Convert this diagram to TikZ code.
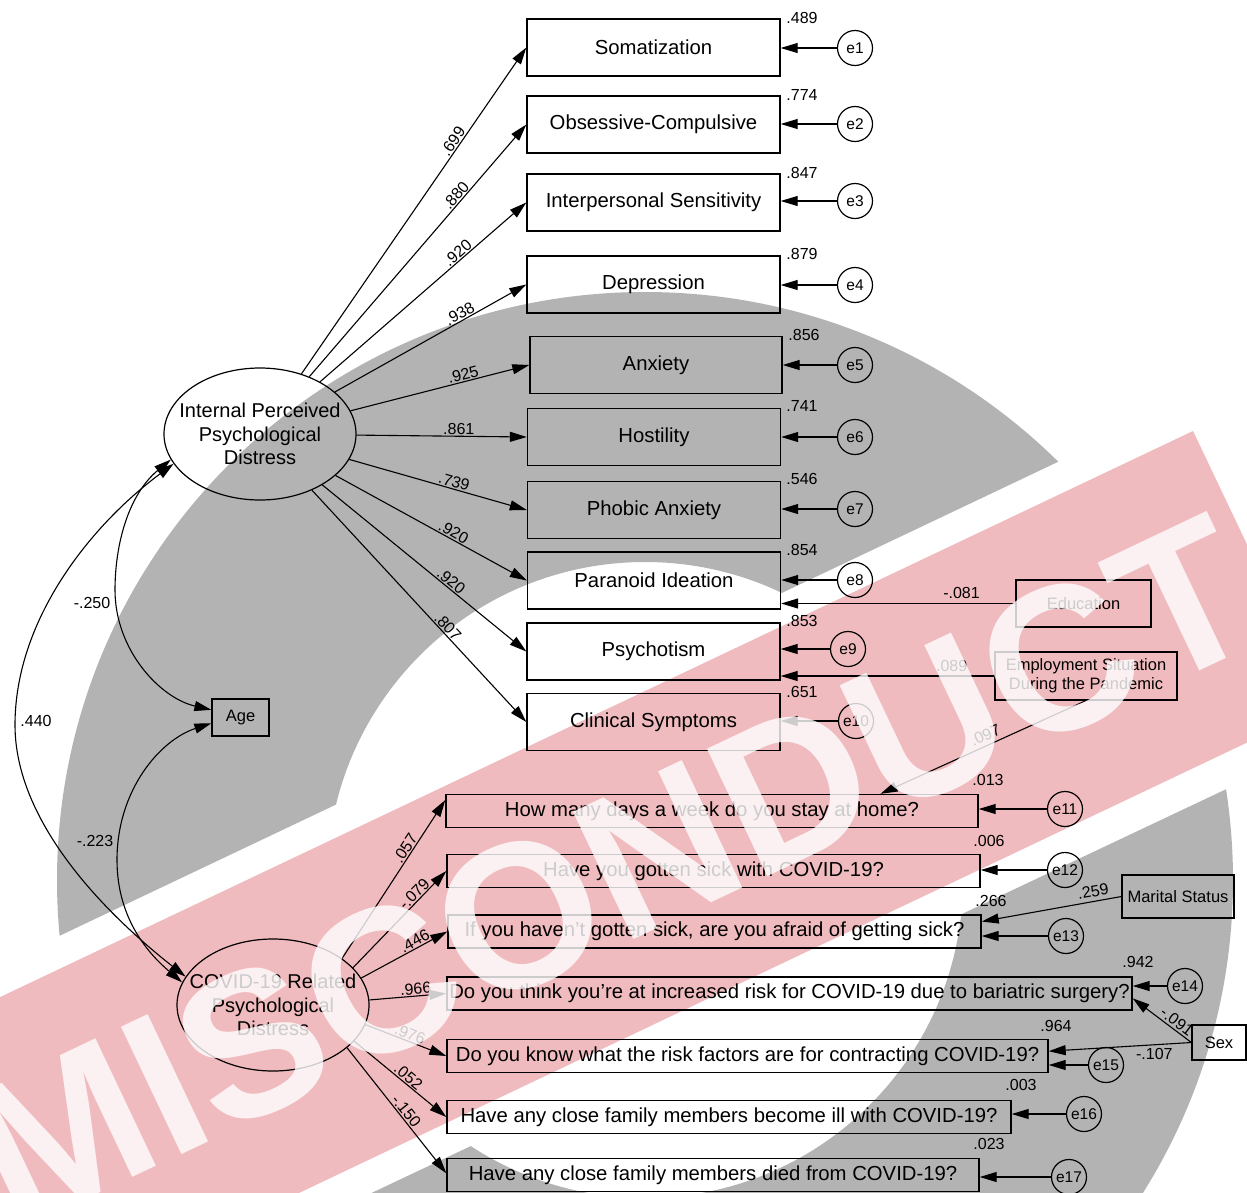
\documentclass[tikz,border=0pt]{standalone}
\usepackage{fontspec}
\setmainfont{Liberation Sans}
\usetikzlibrary{arrows.meta,shapes.geometric,calc}
\definecolor{wmgray}{RGB}{179,179,179}
\definecolor{wmpink}{RGB}{240,187,190}
\begin{document}
\begin{tikzpicture}[x=1pt,y=-1pt,
  obs/.style={draw, line width=1.4pt, minimum width=253pt, minimum height=57pt, inner sep=0pt, font=\fontsize{20.3}{24}\selectfont},
  qbox/.style={draw, line width=1.4pt, minimum height=33pt, inner sep=0pt, font=\fontsize{20.3}{22}\selectfont},
  sbox/.style={draw, line width=1.2pt, inner sep=0pt, align=center, font=\fontsize{16.5}{19}\selectfont},
  err/.style={circle, draw, line width=1.2pt, minimum size=35pt, inner sep=0pt, font=\fontsize{15.5}{17}\selectfont},
  lat/.style={ellipse, draw, line width=1.2pt, minimum width=192pt, minimum height=132pt, inner sep=0pt},
  lattext/.style={align=center, inner sep=0pt, font=\fontsize{20}{23.5}\selectfont},
  arr/.style={-{Triangle[length=17pt,width=10pt]}, line width=1.1pt},
  cov/.style={{Triangle[length=17pt,width=10pt]}-{Triangle[length=17pt,width=10pt]}, line width=1.1pt},
  lab/.style={font=\fontsize{16}{18}\selectfont, inner sep=1pt},
  wm/.style={text=white, text opacity=0.8, inner sep=0pt, font=\fontsize{205}{205}\selectfont\bfseries}
]
\useasboundingbox (0,0) rectangle (1247,1192);
\clip (0,0) rectangle (1247,1192);

% watermark background
\begin{scope}[even odd rule]
  \clip (-300,-300) rectangle (1600,1600) (-200,1059) -- (1222,384) -- (1381,716) -- (-200,1463) -- cycle;
  \fill[wmgray] (645,880) circle[radius=588pt] (645,880) circle[radius=318pt];
\end{scope}
\fill[wmpink] (-200,1092) -- (1193,431) -- (1324,706) -- (-200,1430) -- cycle;

% observed boxes
\node[obs] (s1) at (653.5,47.5) {Somatization};
\node[obs] (s2) at (653.5,124.5) {Obsessive-Compulsive};
\node[obs] (s3) at (653.5,202.5) {Interpersonal Sensitivity};
\node[obs] (s4) at (653.5,284.5) {Depression};
\node[obs, minimum width=252pt] (s5) at (656,365) {Anxiety};
\node[obs] (s6) at (654,437) {Hostility};
\node[obs] (s7) at (654,510) {Phobic Anxiety};
\node[obs] (s8) at (654,580.5) {Paranoid Ideation};
\node[obs] (s9) at (653.5,651.5) {Psychotism};
\node[obs] (s10) at (653.5,722) {Clinical Symptoms};

\node[qbox, minimum width=532pt] (q1) at (712,811) {How many days a week do you stay at home?};
\node[qbox, minimum width=533pt] (q2) at (713.5,871) {Have you gotten sick with COVID-19?};
\node[qbox, minimum width=533pt] (q3) at (714.5,931.5) {If you haven't gotten sick, are you afraid of getting sick?};
\node[qbox, minimum width=685pt] (q4) at (789.5,993.5) {Do you think you're at increased risk for COVID-19 due to bariatric surgery?};
\node[qbox, minimum width=601pt] (q5) at (747.5,1056) {Do you know what the risk factors are for contracting COVID-19?};
\node[qbox, minimum width=564pt] (q6) at (729,1117) {Have any close family members become ill with COVID-19?};
\node[qbox, minimum width=532pt] (q7) at (713,1175) {Have any close family members died from COVID-19?};

% error terms
\node[err] (e1) at (855,48) {e1};
\node[err] (e2) at (855,124) {e2};
\node[err] (e3) at (855,201) {e3};
\node[err] (e4) at (855,285) {e4};
\node[err] (e5) at (855,365) {e5};
\node[err] (e6) at (855,437) {e6};
\node[err] (e7) at (855,509) {e7};
\node[err] (e8) at (855,580) {e8};
\node[err] (e9) at (848,649) {e9};
\node[err] (e10) at (856,721) {e10};
\node[err] (e11) at (1065,809) {e11};
\node[err] (e12) at (1065,870) {e12};
\node[err] (e13) at (1066,936) {e13};
\node[err] (e14) at (1185,986) {e14};
\node[err] (e15) at (1106,1065) {e15};
\node[err] (e16) at (1084,1114) {e16};
\node[err] (e17) at (1069,1177) {e17};

% other boxes
\node[sbox, minimum width=57pt, minimum height=37pt] (age) at (240.5,717.5) {Age};
\node[sbox, minimum width=135pt, minimum height=47pt] (edu) at (1083.5,603.5) {Education};
\node[sbox, minimum width=182pt, minimum height=48pt] (emp) at (1086,676) {Employment Situation\\During the Pandemic};
\node[sbox, minimum width=112pt, minimum height=43pt] (mar) at (1178,896.5) {Marital Status};
\node[sbox, minimum width=54pt, minimum height=35pt] (sex) at (1219,1042.5) {Sex};

% latent variables
\node[lat] (ipd) at (260,434) {};
\node[lattext] (ipdt) at (260,434) {Internal Perceived\\Psychological\\Distress};
\node[lat] (cov) at (273,1005) {};
\node[lattext] (covt) at (273,1005) {COVID-19 Related\\Psychological\\Distress};

% loadings IPD
\draw[arr] (ipd) -- node[lab, sloped, above, pos=0.7] (l1) {.699} (s1.west);
\draw[arr] (ipd) -- node[lab, sloped, above, pos=0.7] (l2) {.880} (s2.west);
\draw[arr] (ipd) -- node[lab, sloped, above, pos=0.69] (l3) {.920} (s3.west);
\draw[arr] (ipd) -- node[lab, sloped, above, pos=0.67] (l4) {.938} (s4.west);
\draw[arr] (ipd) -- node[lab, sloped, above, pos=0.64] (l5) {.925} (s5.west);
\draw[arr] (ipd) -- node[lab, sloped, above, pos=0.6] (l6) {.861} (s6.west);
\draw[arr] (ipd) -- node[lab, sloped, above, pos=0.58] (l7) {.739} (s7.west);
\draw[arr] (ipd) -- node[lab, sloped, above, pos=0.6] (l8) {.920} (s8.west);
\draw[arr] (ipd) -- node[lab, sloped, above, pos=0.61] (l9) {.920} (s9.west);
\draw[arr] (ipd) -- node[lab, sloped, above, pos=0.61] (l10) {.807} (s10.west);

% loadings COVID
\draw[arr] (cov.34) -- node[lab, sloped, above, pos=0.67] (m1) {.057} ($(q1.north west)!0.18!(q1.south west)$);
\draw[arr] (cov.25) -- node[lab, sloped, above, pos=0.71] (m2) {-.079} (q2.west);
\draw[arr] (cov.17) -- node[lab, sloped, above, pos=0.66] (m3) {.446} (q3.west);
\draw[arr] (cov.3) -- node[lab, sloped, above, pos=0.61] (m4) {.966} (q4.west);
\draw[arr] (cov.-12) -- node[lab, sloped, above, pos=0.52] (m5) {.976} (q5.west);
\draw[arr] (cov.-24) -- node[lab, sloped, above, pos=0.54] (m6) {.052} (q6.west);
\draw[arr] (cov.-30) -- node[lab, sloped, above, pos=0.54] (m7) {-.150} ($(q7.north west)!0.45!(q7.south west)$);

% error arrows
\foreach \e/\b in {e1/s1,e2/s2,e3/s3,e4/s4,e5/s5,e6/s6,e7/s7,e8/s8,e9/s9,e10/s10,e11/q1,e12/q2,e13/q3,e14/q4,e15/q5,e16/q6,e17/q7}
  \draw[arr] (\e.west) -- (\b.east |- \e.west);

% covariate paths
\draw[arr] (edu.west) -- node[lab, above=3pt, pos=0.23] (n1) {-.081} (s8.east |- edu.west);
\draw[arr] (emp.west) -- node[lab, above=3pt, pos=0.2] (n2) {.089} (s9.east |- emp.west);
\draw[arr] (emp.south) -- node[lab, sloped, above=3pt, pos=0.47] (n3) {.097} ($(q1.north west)!0.816!(q1.north east)$);
\draw[arr] (mar.west) -- node[lab, sloped, above=3pt, pos=0.19] (n4) {.259} ($(q3.north east)!0.21!(q3.south east)$);
\draw[arr] (sex.west) -- node[lab, sloped, above=1pt, pos=0.33] (n5) {-.091} ($(q4.north east)!0.64!(q4.south east)$);
\draw[arr] (sex.west) -- node[lab, below=2pt, pos=0.26] (n6) {-.107} ($(q5.north east)!0.36!(q5.south east)$);

% covariances
\draw[cov] (ipd.196) .. controls (128,495) and (115,545) .. (115,590) .. controls (115,650) and (160,698) .. ($(age.north west)!0.3!(age.south west)$);
\draw[cov] (ipd.199) .. controls (90,526) and (15,620) .. (15,725) .. controls (15,830) and (120,925) .. (cov.162);
\draw[cov] ($(age.north west)!0.65!(age.south west)$) .. controls (160,740) and (117,790) .. (117,860) .. controls (117,920) and (150,955) .. (cov.166);
\node[lab] (c1) at (92,603) {-.250};
\node[lab] (c2) at (36,721) {.440};
\node[lab] (c3) at (95,841) {-.223};

% squared multiple correlations
\node[lab] (r1) at (802,18) {.489};
\node[lab] (r2) at (802,95) {.774};
\node[lab] (r3) at (802,173) {.847};
\node[lab] (r4) at (802,254) {.879};
\node[lab] (r5) at (804,335) {.856};
\node[lab] (r6) at (802,406) {.741};
\node[lab] (r7) at (802,479) {.546};
\node[lab] (r8) at (802,550) {.854};
\node[lab] (r9) at (802,621) {.853};
\node[lab] (r10) at (802,692) {.651};
\node[lab] (r11) at (988,780) {.013};
\node[lab] (r12) at (989,841) {.006};
\node[lab] (r13) at (991,901) {.266};
\node[lab] (r14) at (1138,962) {.942};
\node[lab] (r15) at (1056,1026) {.964};
\node[lab] (r16) at (1021,1085) {.003};
\node[lab] (r17) at (989,1144) {.023};

% watermark letters
\node[wm, rotate=25.4] (wmt) at (612,872) {MISCONDUCT};
\end{tikzpicture}
\end{document}
